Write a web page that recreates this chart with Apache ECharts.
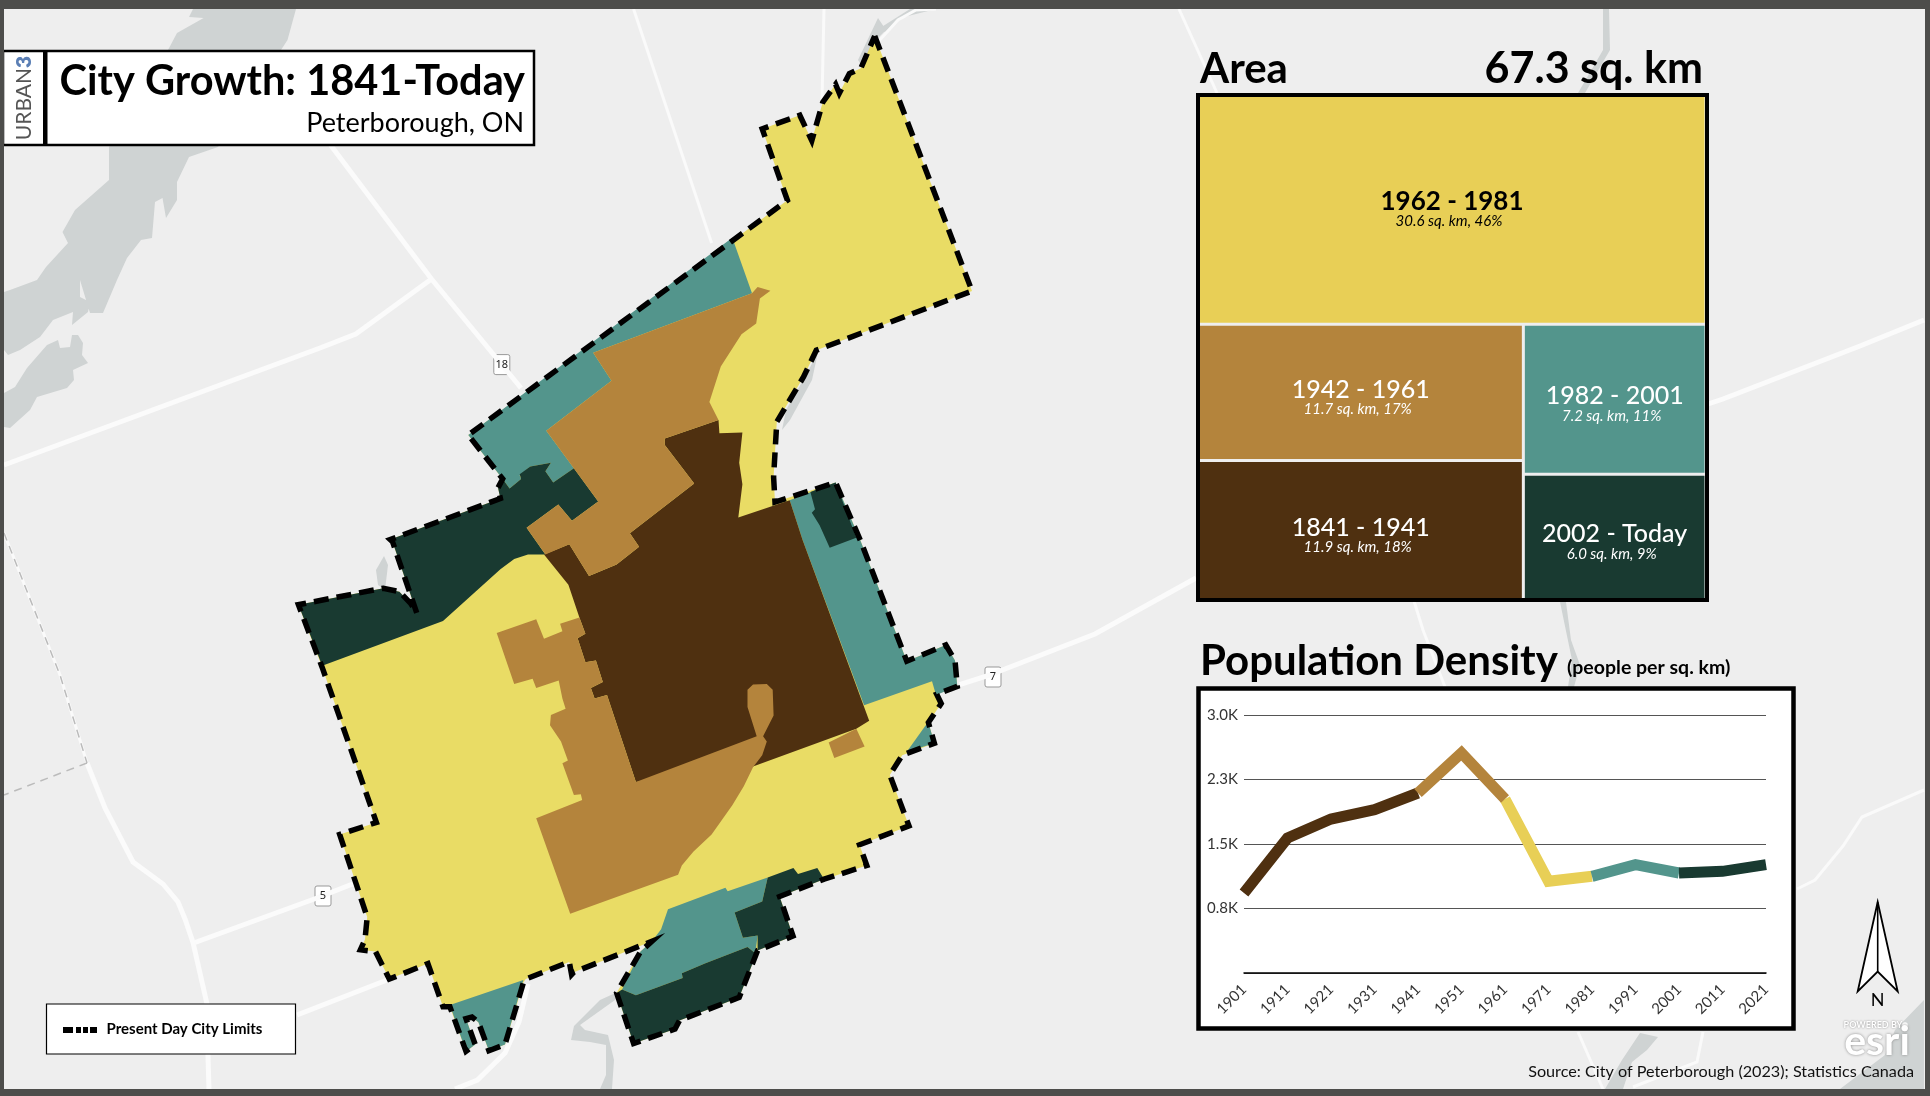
<!DOCTYPE html>
<html>
<head>
<meta charset="utf-8">
<title>City Growth</title>
<style>
html, body { margin: 0; padding: 0; background: #eeeeee; }
#main { width: 1930px; height: 1096px; }
</style>
<script src="https://cdn.jsdelivr.net/npm/echarts@6/dist/echarts.min.js"></script>
</head>
<body>
<div id="main"></div>
<script>
// population density
const years = ['1901','1911','1921','1931','1941','1951','1961','1971','1981','1991','2001','2011','2021'];
const density = [930, 1570, 1790, 1900, 2093, 2558, 2023, 1066, 1124, 1260, 1163, 1182, 1260];

// area treemap
const periods = ['1962 - 1981', '1942 - 1961', '1841 - 1941', '1982 - 2001', '2002 - Today'];
const areaSqKm = [30.6, 11.7, 11.9, 7.2, 6.0];
const areaShare = [46, 17, 18, 11, 9];

// map shapes, page pixels
const cityLimits = [[874.7,36],[972,291],[816.3,350.3],[803.5,377],[776.8,421.8],[773.6,477],[775,502],[835.6,482.5],[860.9,541.7],[906.8,661.2],[945.8,645],[955,660.5],[957.3,686.4],[936.7,694.3],[941.2,703.6],[928.4,722.5],[934.4,743.2],[902.2,755.2],[889.8,774.9],[909,825.9],[859.5,844.8],[866.8,865.5],[824.1,879.2],[779.6,896.5],[793,936],[757.6,950.5],[739.2,997.4],[679.5,1020.4],[675,1029],[633.6,1043.5],[616.6,992.9],[640.5,951.6],[652,941.2],[573.9,972.2],[571.6,974.6],[569.3,961.9],[525.7,979.1],[523.4,982.6],[505,1044.5],[488.9,1050.7],[478.4,1022.2],[472,1017],[466,1018.7],[475.2,1044.5],[466,1051.4],[449.9,1006.7],[443,1006.7],[427.9,963.6],[389.3,979.1],[375.5,951.6],[360.4,949.8],[365,939.5],[367.2,917.1],[339.7,834.5],[376.4,822.4],[322.2,667.4],[298.4,604.7],[383.3,588.2],[399.4,591.7],[410.9,603.7],[416.8,613],[392.5,541.7],[390.2,539.6],[500.4,498.5],[498,487.8],[502.7,478.9],[468.3,435],[787.4,200.3],[762.2,128.9],[799.8,115.3],[811.8,140.7],[822.8,102.1],[835.6,84.3],[839.3,93.2],[849.4,73.6],[860.9,68.2],[874.7,36]];
const tealAreas = [
  [[732.3,237.8],[752,293.2],[593.2,352.8],[611.5,380.7],[546.3,430.7],[573.9,468.2],[553.2,482.4],[545.4,471.3],[550.9,462.8],[530.3,466.4],[519.7,475.3],[521.1,478.9],[509.6,488.5],[502.7,478.9],[468.3,435]],
  [[789.7,500.3],[835.6,482.5],[860.9,541.7],[906.8,661.2],[945.8,645],[955,660.5],[957.3,686.4],[936,695],[932,681.2],[864.1,705.3],[802.6,540]],
  [[925.2,726],[906.8,751.8],[934.4,743.2],[928.4,722.5]],
  [[668,909.2],[725.4,887.8],[727.7,891.3],[767.7,877.5],[762.2,901.6],[734.6,912.6],[742.9,937.8],[757.6,935.4],[755.3,953.3],[747.5,947.1],[704.8,963.6],[681.8,973.2],[682.7,978.1],[635.9,995.3],[622.1,989.4],[640.5,951.6],[652,941.2],[661.1,929.2]],
  [[449.9,1005],[523.4,980.1],[505,1044.5],[488.9,1050.7],[478.4,1022.2],[472,1017],[466,1018.7],[475.2,1044.5],[466,1051.4]]
];
const darkGreenAreas = [
  [[502.7,478.9],[509.6,488.5],[521.1,478.9],[519.7,474.2],[530.3,466.4],[550.9,462.8],[545.4,471.3],[553.2,482.4],[573.9,468.2],[598.2,501.4],[572,520.7],[558.3,504.6],[526.6,527.8],[545.4,554.6],[528,554.5],[514.2,558.9],[500.4,569.3],[443,620.9],[322.2,665.7],[298.4,604.7],[383.3,588.2],[399.4,591.7],[410.9,603.7],[416.8,613],[392.5,541.7],[390.2,539.6],[500.4,498.5],[498,487.8]],
  [[810.4,492],[815,509.2],[811.8,512.8],[819.6,525.3],[829.7,547.8],[856.3,537.8],[835.6,482.5]],
  [[767.7,877.5],[793.4,867.9],[798,874],[817.3,867.9],[824.1,879.2],[779.6,896.5],[793,936],[757.6,950.5],[757.6,935.4],[742.9,937.8],[734.6,912.6],[762.2,901.6]],
  [[747.5,947.1],[755.3,953.3],[757.6,950.5],[739.2,997.4],[679.5,1020.4],[675,1029],[633.6,1043.5],[616.6,992.9],[622.1,989.4],[635.9,995.3],[682.7,978.1],[681.8,973.2],[704.8,963.6]]
];
const brownAreas = [
  [[718.5,420],[719.4,433.2],[742.4,432.5],[739.2,462.8],[742.4,484.2],[738.3,517.4],[789.7,500.3],[802.6,540],[869.2,720.8],[856.3,728.7],[753,766.6],[635.9,782],[607,695],[594.6,698.4],[590.9,688.1],[602.8,681.9],[595.9,660.5],[585.4,662.3],[577.6,638.2],[585.4,633.7],[579.4,617.5],[568.4,584.8],[544,554.5],[569.3,544.2],[589,576],[616.6,564.6],[639.1,546.7],[629.9,533.2],[694.2,483.5],[664.8,445],[664.8,438.5]]
];
const tanAreas = [
  [[757.6,287.1],[770.4,290.7],[759.9,298.5],[756.2,323.5],[741.5,334.3],[720.8,366.4],[709.4,402.1],[718.5,420],[664.8,438.5],[664.8,445],[694.2,483.5],[629.9,533.2],[639.1,546.7],[616.6,564.6],[589,576],[569.3,544.2],[545.4,554.6],[526.6,527.8],[558.3,504.6],[572,520.7],[598.2,501.4],[546.3,430.7],[611.5,380.7],[593.2,352.8],[752,293.2]],
  [[747.5,689.8],[753,684.6],[766.8,684],[772.7,689.8],[773.6,715.6],[763.1,736.3],[766.8,741.5],[762.2,755.3],[753,767.3],[743.8,786.2],[732.3,805.2],[711.6,834.5],[693.3,851.7],[681.8,865.5],[678.1,874.8],[570.2,913.7],[536.2,818.3],[582.2,800],[580.8,794.2],[573.9,794.9],[562.4,763.2],[567.9,760.4],[561,741.5],[550,725.3],[550.9,715],[565.6,708.8],[562.4,698.4],[558.7,680.5],[536.2,688.1],[532.6,678.8],[514.2,684],[496.7,633],[536.2,619.2],[544,638.8],[562.4,631.3],[560.1,623.7],[579.4,617.5],[585.4,633.7],[577.6,638.2],[585.4,662.3],[595.9,660.5],[602.8,681.9],[590.9,688.1],[594.6,698.4],[607,695],[635.9,782],[756.7,736.3],[747.5,707]],
  [[828.7,742.5],[856.3,728.7],[864.6,746.6],[834.3,758]]
];
const waterAreas = [
  [[193,9],[189,17],[203.6,18],[177,33],[168,50],[109,147],[109,180],[75,210],[62.5,232],[68,243],[46,267],[37,280],[10,290],[4,292],[4,350],[8,355],[20,350],[40,337],[53,320],[73,312],[72,325],[88,312],[90,302],[80,297],[80,280],[90,313],[103,313],[117,280],[127,258],[141,240],[152,238],[155,202],[162.5,198],[166,218],[177,200],[177,182],[189,157],[218,147],[287.5,40],[296,9]],
  [[72,335],[78,335],[83,343],[82,355],[88,363],[73,370],[74,380],[67,388],[37,397],[30,410],[10,428],[4,427],[4,393],[15,387],[27,368],[47,345],[58,340],[60,348],[70,347]],
  [[878,18],[886,30],[876,40],[862,66],[858,60]],
  [[880,28],[910,9],[936,9],[900,18],[885,32]],
  [[1603,9],[1609,9],[1610,50],[1585,93],[1578,93],[1603,50]],
  [[1560,602],[1566,602],[1571,640],[1580,665],[1574,687],[1568,687],[1572,660]],
  [[1640,1033],[1658,1037],[1647,1050],[1632,1062],[1623,1089],[1605,1089],[1622,1060]],
  [[1924,1000],[1895,1030],[1885,1055],[1840,1089],[1924,1089]],
  [[384,556],[388,565],[385,590],[378,585],[376,570]],
  [[622,990],[600,1000],[574,1026],[571,1040],[590,1042],[606,1045],[606,1075],[600,1089],[612,1089],[614,1060],[608,1035],[585,1030],[580,1025],[615,1000]],
  [[818,352],[812,380],[790,420],[782,430],[786,410],[806,375]]
];
const majorRoads = [
  [[330.5,145],[431.5,279],[521,388]],
  [[431.5,279],[355.8,334],[320,348],[4,465]],
  [[959.6,684.6],[987,676],[1095,634],[1196,578]],
  [[1708,404],[1723,399],[1860,346],[1924,320]],
  [[87,763],[105,808],[133,862],[163,884],[178,902],[185,919],[193,942.5],[207,1004],[208,1056],[209,1090]],
  [[195,942.5],[317,898],[355,883]],
  [[297,1015],[387,980]],
  [[528,984],[519,1022],[505,1053],[477.4,1080],[455,1089]]
];
const minorRoads = [
  [[633.6,9],[711.6,243]],
  [[936,9],[916,10],[898,20],[878,42]],
  [[824,9],[822,100]],
  [[1179,9],[1217,93]],
  [[1414,601],[1423,630],[1445,687]],
  [[1797,889],[1815,880],[1843,846],[1862,817],[1924,790]],
  [[1578,1032],[1603,1089]],
  [[1703,1032],[1697,1062],[1633,1087]],
  [[4,533],[60,675],[87,763]]
];
const trailLines = [
  [[4,533],[60,675],[87,763]],
  [[87,763],[4,795]]
];
const shields = [['18', 501.8, 364.6], ['5', 323, 896], ['7', 993, 677]];

const C_YELLOW = '#e8cf56', C_MAP_YELLOW = '#e9dc65', C_TAN = '#b4843c', C_BROWN = '#4f3010', C_TEAL = '#53958c', C_GREEN = '#193a31';
const C_EDGE = '#4d4d4b';
const periodColors = [C_YELLOW, C_TAN, C_BROWN, C_TEAL, C_GREEN];
const FONT = 'Lato';
const CELL_GAP = 1.5;

// treemap cells from the areas, split the way the original is
function treemapCells() {
  const total = areaSqKm.reduce((a, b) => a + b, 0);
  const topH = areaSqKm[0] / total;
  const restL = areaSqKm[1] + areaSqKm[2], restR = areaSqKm[3] + areaSqKm[4];
  const leftW = restL / (restL + restR);
  const leftSplit = topH + (1 - topH) * areaSqKm[1] / restL;
  const rightSplit = topH + (1 - topH) * areaSqKm[3] / restR;
  return [
    [0, 0, 1, topH, 0],
    [0, topH, leftW, leftSplit, 1],
    [0, leftSplit, leftW, 1, 2],
    [leftW, topH, 1, rightSplit, 3],
    [leftW, rightSplit, 1, 1, 4]
  ];
}

function polySeries(name, polys, color, z) {
  return {
    type: 'custom', name, xAxisIndex: 0, yAxisIndex: 0, z, silent: true, clip: false,
    data: polys.map((p, i) => [i]),
    renderItem: function (params, api) {
      const pts = polys[api.value(0)].map(p => api.coord(p));
      return { type: 'polygon', shape: { points: pts }, style: { fill: color } };
    }
  };
}

function roadSeries(name, lines, color, width, z, dash) {
  return {
    type: 'custom', name, xAxisIndex: 0, yAxisIndex: 0, z, silent: true, clip: false,
    data: lines.map((l, i) => [i]),
    renderItem: function (params, api) {
      return {
        type: 'polyline',
        shape: { points: lines[api.value(0)].map(p => api.coord(p)) },
        style: { stroke: color, lineWidth: width, fill: null, lineDash: dash || null }
      };
    }
  };
}

// one coloured stretch of the density line, from index a to index b
function densitySegment(a, b, color, z) {
  return {
    type: 'line', xAxisIndex: 2, yAxisIndex: 2, z, symbol: 'none', silent: true, clip: false,
    lineStyle: { color, width: 11, cap: 'butt', join: 'miter' },
    data: density.map((v, i) => (i >= a && i <= b ? v : null))
  };
}

const chart = echarts.init(document.getElementById('main'), null, { renderer: 'canvas' });

const hiddenAxis = { show: false };

// highway shields
const shieldGraphics = [];
shields.forEach(s => {
  shieldGraphics.push({ type: 'rect', z: 2, shape: { x: s[1] - 8, y: s[2] - 10, width: 16, height: 20, r: 2 }, style: { fill: '#fff', stroke: '#999', lineWidth: 1 } });
  shieldGraphics.push({ type: 'text', z: 3, x: s[1], y: s[2], style: { text: s[0], fill: '#222', align: 'center', verticalAlign: 'middle', fontFamily: 'Noto Sans', fontSize: 11 } });
});

chart.setOption({
  animation: false,
  backgroundColor: '#eeeeee',
  grid: [
    { left: 0, top: 0, width: 1930, height: 1096 },
    { left: 1199.5, top: 96, width: 505, height: 503 },
    { left: 1244, top: 715, width: 522, height: 258 }
  ],
  xAxis: [
    { type: 'value', min: 0, max: 1930, gridIndex: 0, ...hiddenAxis },
    { type: 'value', min: 0, max: 1, gridIndex: 1, ...hiddenAxis },
    {
      type: 'category', data: years, gridIndex: 2, boundaryGap: false, z: 10,
      axisTick: { show: false },
      axisLine: { lineStyle: { color: '#000', width: 1.5 } },
      axisLabel: { rotate: 45, interval: 0, fontFamily: FONT, fontSize: 15, color: '#333', margin: 14 }
    }
  ],
  yAxis: [
    { type: 'value', min: 0, max: 1096, inverse: true, gridIndex: 0, ...hiddenAxis },
    { type: 'value', min: 0, max: 1, inverse: true, gridIndex: 1, ...hiddenAxis },
    {
      type: 'value', min: 0, max: 3000, interval: 750, gridIndex: 2, z: 10,
      axisLine: { show: false }, axisTick: { show: false },
      splitLine: { lineStyle: { color: '#555', width: 1.2 } },
      axisLabel: {
        fontFamily: FONT, fontSize: 15, color: '#333', margin: 6,
        formatter: v => (v === 0 ? '' : (v / 1000).toFixed(1) + 'K')
      }
    }
  ],
  series: [
    polySeries('water', waterAreas, '#cfd3d3', 1),
    roadSeries('minor roads', minorRoads, '#fafafa', 3, 2),
    roadSeries('major roads', majorRoads, '#fbfbfb', 5, 2),
    roadSeries('trails', trailLines, '#bbbbbb', 1.5, 2, [8, 6]),
    polySeries('1962 - 1981', [cityLimits], C_MAP_YELLOW, 3),
    polySeries('1982 - 2001', tealAreas, C_TEAL, 4),
    polySeries('2002 - Today', darkGreenAreas, C_GREEN, 5),
    polySeries('1841 - 1941', brownAreas, C_BROWN, 6),
    polySeries('1942 - 1961', tanAreas, C_TAN, 7),
    {
      type: 'line', name: 'Present Day City Limits', xAxisIndex: 0, yAxisIndex: 0, z: 8, silent: true,
      symbol: 'none', clip: false, data: cityLimits,
      lineStyle: { color: '#000', width: 5.5, type: [15, 8], join: 'miter' }
    },
    {
      // area cells, white gaps only between neighbours and none along the frame
      type: 'custom', name: 'Area', xAxisIndex: 1, yAxisIndex: 1, z: 12, silent: true, clip: false,
      data: treemapCells(),
      renderItem: function (params, api) {
        const idx = api.value(4);
        const p0 = api.coord([api.value(0), api.value(1)]);
        const p1 = api.coord([api.value(2), api.value(3)]);
        const x0 = p0[0] + (api.value(0) > 0 ? CELL_GAP : 0), y0 = p0[1] + (api.value(1) > 0 ? CELL_GAP : 0);
        const x1 = p1[0] - (api.value(2) < 1 ? CELL_GAP : 0), y1 = p1[1] - (api.value(3) < 1 ? CELL_GAP : 0);
        const cx = (x0 + x1) / 2, cy = (y0 + y1) / 2;
        const textColor = idx === 0 ? '#000' : '#fff';
        const drop = idx === 0 ? 0 : 5;
        return {
          type: 'group',
          children: [
            { type: 'rect', shape: { x: x0, y: y0, width: x1 - x0, height: y1 - y0 }, style: { fill: periodColors[idx] } },
            { type: 'text', x: cx, y: cy - 8 + drop, style: { text: periods[idx], fill: textColor, align: 'center', verticalAlign: 'middle',
                fontFamily: FONT, fontSize: idx === 0 ? 26 : 25, fontWeight: idx === 0 ? 700 : 500 } },
            { type: 'text', x: cx - 3, y: cy + 12 + drop, style: { text: areaSqKm[idx].toFixed(1) + ' sq. km, ' + areaShare[idx] + '%', fill: textColor, align: 'center', verticalAlign: 'middle',
                fontFamily: FONT, fontSize: 15, fontStyle: 'italic' } }
          ]
        };
      }
    },
    densitySegment(0, 4, C_BROWN, 13),
    densitySegment(4, 6, C_TAN, 14),
    densitySegment(6, 8, C_YELLOW, 13),
    densitySegment(8, 10, C_TEAL, 13),
    densitySegment(10, 12, C_GREEN, 14)
  ],
  graphic: shieldGraphics.concat([
    // page edge
    { type: 'rect', z: 50, shape: { x: 0, y: 0, width: 1930, height: 9 }, style: { fill: C_EDGE } },
    { type: 'rect', z: 50, shape: { x: 0, y: 1089, width: 1930, height: 7 }, style: { fill: C_EDGE } },
    { type: 'rect', z: 50, shape: { x: 0, y: 0, width: 4, height: 1096 }, style: { fill: C_EDGE } },
    { type: 'rect', z: 50, shape: { x: 1925, y: 0, width: 5, height: 1096 }, style: { fill: C_EDGE } },

    // title box
    { type: 'rect', z: 20, shape: { x: 3, y: 51, width: 531, height: 94 }, style: { fill: '#fff', stroke: '#000', lineWidth: 2.5 } },
    { type: 'rect', z: 21, shape: { x: 43, y: 51, width: 4.5, height: 94 }, style: { fill: '#000' } },
    { type: 'text', z: 21, x: 24, y: 98, rotation: Math.PI / 2, style: { rich: { a: { fill: '#555', fontFamily: FONT, fontSize: 21 }, b: { fill: '#5b7fb5', fontFamily: FONT, fontSize: 21, fontWeight: 800 } }, text: '{a|URBAN}{b|3}', align: 'center', verticalAlign: 'middle' } },
    { type: 'text', z: 21, x: 525, y: 82, style: { text: 'City Growth: 1841-Today', fill: '#000', align: 'right', verticalAlign: 'middle', fontFamily: FONT, fontSize: 41.5, fontWeight: 700 } },
    { type: 'text', z: 21, x: 524, y: 123, style: { text: 'Peterborough, ON', fill: '#000', align: 'right', verticalAlign: 'middle', fontFamily: FONT, fontSize: 27 } },

    // area panel
    { type: 'text', z: 21, x: 1200, y: 69, style: { text: 'Area', fill: '#000', align: 'left', verticalAlign: 'middle', fontFamily: FONT, fontSize: 42, fontWeight: 700 } },
    { type: 'text', z: 21, x: 1703, y: 69, style: { text: '67.3 sq. km', fill: '#000', align: 'right', verticalAlign: 'middle', fontFamily: FONT, fontSize: 43, fontWeight: 700 } },
    { type: 'rect', z: 15, shape: { x: 1198, y: 95, width: 509, height: 505 }, style: { fill: null, stroke: '#000', lineWidth: 4 } },

    // density panel
    { type: 'text', z: 21, x: 1200, y: 661, style: { text: 'Population Density', fill: '#000', align: 'left', verticalAlign: 'middle', fontFamily: FONT, fontSize: 42, fontWeight: 700 } },
    { type: 'text', z: 21, x: 1567, y: 668, style: { text: '(people per sq. km)', fill: '#000', align: 'left', verticalAlign: 'middle', fontFamily: FONT, fontSize: 19.5, fontWeight: 700 } },
    { type: 'rect', z: 9, shape: { x: 1198.5, y: 688.5, width: 595, height: 340 }, style: { fill: '#fff', stroke: '#000', lineWidth: 4.5 } },

    // legend
    { type: 'rect', z: 20, shape: { x: 46.5, y: 1004, width: 249, height: 50 }, style: { fill: '#fff', stroke: '#000', lineWidth: 1.2 } },
    { type: 'line', z: 21, shape: { x1: 63, y1: 1030, x2: 97, y2: 1030 }, style: { stroke: '#000', lineWidth: 6, lineDash: [10, 3, 5, 2, 5, 2, 8, 100] } },
    { type: 'text', z: 21, x: 106.5, y: 1029, style: { text: 'Present Day City Limits', fill: '#000', align: 'left', verticalAlign: 'middle', fontFamily: FONT, fontSize: 15, fontWeight: 700 } },

    // north arrow
    { type: 'polygon', z: 20, shape: { points: [[1877.7,902],[1897.7,991.5],[1877.7,971.5],[1857.7,991.5]] }, style: { fill: '#fff', stroke: '#000', lineWidth: 1.8 } },
    { type: 'line', z: 21, shape: { x1: 1877.7, y1: 902, x2: 1877.7, y2: 971.5 }, style: { stroke: '#000', lineWidth: 1.6 } },
    { type: 'text', z: 21, x: 1877.7, y: 1000, style: { text: 'N', fill: '#000', align: 'center', verticalAlign: 'middle', fontFamily: FONT, fontSize: 18 } },

    // credits
    { type: 'text', z: 21, x: 1873, y: 1025, style: { text: 'POWERED BY', fill: '#fff', align: 'center', verticalAlign: 'middle', fontFamily: FONT, fontSize: 9, fontWeight: 700, textShadowColor: '#888', textShadowBlur: 2 } },
    { type: 'circle', z: 21, shape: { cx: 1905, cy: 1025, r: 2.8 }, style: { fill: '#fff' } },
    { type: 'text', z: 21, x: 1877, y: 1042, style: { text: 'esri', fill: '#fff', align: 'center', verticalAlign: 'middle', fontFamily: FONT, fontSize: 41, fontWeight: 700, textShadowColor: '#888', textShadowBlur: 3 } },
    { type: 'text', z: 21, x: 1914, y: 1072, style: { text: 'Source: City of Peterborough (2023); Statistics Canada', fill: '#111', align: 'right', verticalAlign: 'middle', fontFamily: FONT, fontSize: 16.2 } }
  ])
});
</script>
</body>
</html>
